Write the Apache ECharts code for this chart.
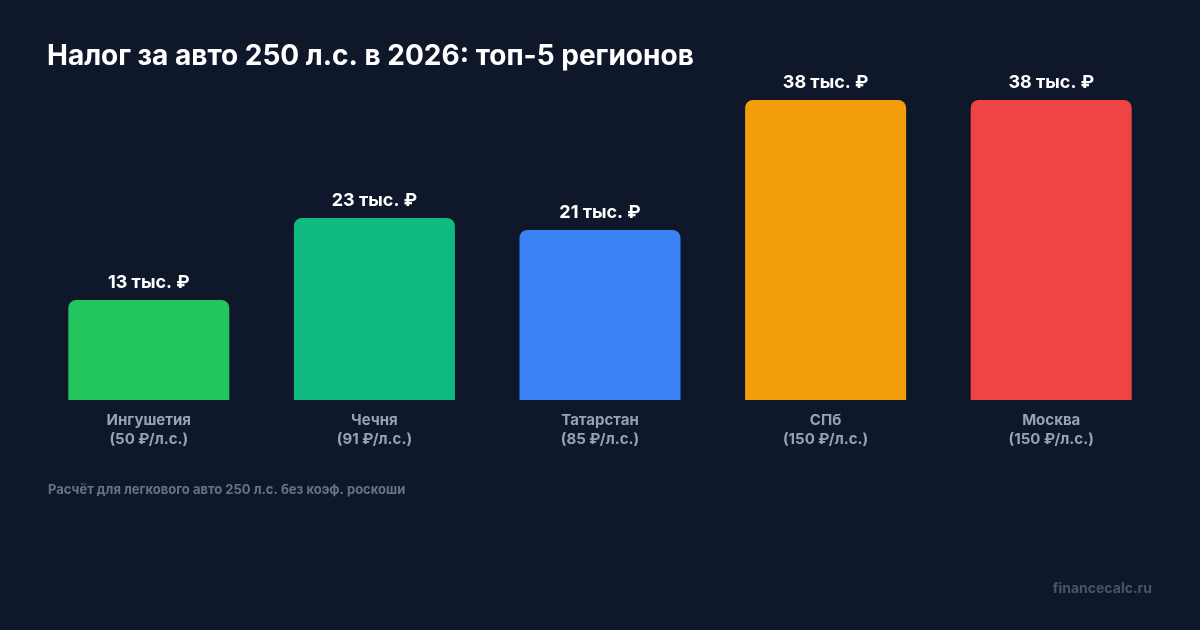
<!DOCTYPE html>
<html><head><meta charset="utf-8">
<script src="https://cdn.jsdelivr.net/npm/echarts@6/dist/echarts.min.js"></script>
<style>html,body{margin:0;padding:0;background:#0f172a;}#c{width:1200px;height:630px;}</style>
</head><body><div id="c"></div>
<script>
const regions = ['Ингушетия', 'Чечня', 'Татарстан', 'СПб', 'Москва'];
const rates = [50, 91, 85, 150, 150];
const taxValues = [12500, 22750, 21250, 37500, 37500];
const barColors = ['#22c55e', '#10b981', '#3b82f6', '#f59e0b', '#ef4444'];

const chart = echarts.init(document.getElementById('c'));
chart.setOption({
  backgroundColor: '#0f172a',
  animation: false,
  title: [
    { text: 'Налог за авто 250 л.с. в 2026: топ-5 регионов', left: 47, top: 43, padding: 0,
      textStyle: { color: '#ffffff', fontFamily: 'Inter', fontWeight: 'bold', fontSize: 28 } },
    { text: 'Расчёт для легкового авто 250 л.с. без коэф. роскоши', left: 48, top: 484, padding: 0,
      textStyle: { color: '#64748b', fontFamily: 'Inter', fontWeight: 'bold', fontSize: 13 } },
    { text: 'financecalc.ru', right: 48, top: 582, padding: 0,
      textStyle: { color: '#475569', fontFamily: 'Inter', fontWeight: 'bold', fontSize: 14 } }
  ],
  grid: { left: 36, right: 36, top: 100, bottom: 230, containLabel: false },
  xAxis: {
    type: 'category',
    data: regions.map((r, i) => r + '\n(' + rates[i] + ' ₽/л.с.)'),
    axisLine: { show: false }, axisTick: { show: false },
    axisLabel: { color: '#94a3b8', fontFamily: 'Inter', fontWeight: 'bold', fontSize: 15, lineHeight: 19, margin: 11 }
  },
  yAxis: { type: 'value', min: 0, max: 37500, show: false, splitLine: { show: false } },
  series: [{
    type: 'bar',
    barWidth: 161,
    data: taxValues.map((v, i) => ({ value: v, itemStyle: { color: barColors[i], borderRadius: [8, 8, 0, 0] } })),
    label: {
      show: true, position: 'top', distance: 8,
      color: '#ffffff', fontFamily: 'Inter', fontWeight: 'bold', fontSize: 18,
      formatter: p => Math.round(p.value / 1000) + ' тыс. ₽'
    }
  }]
});
</script></body></html>
